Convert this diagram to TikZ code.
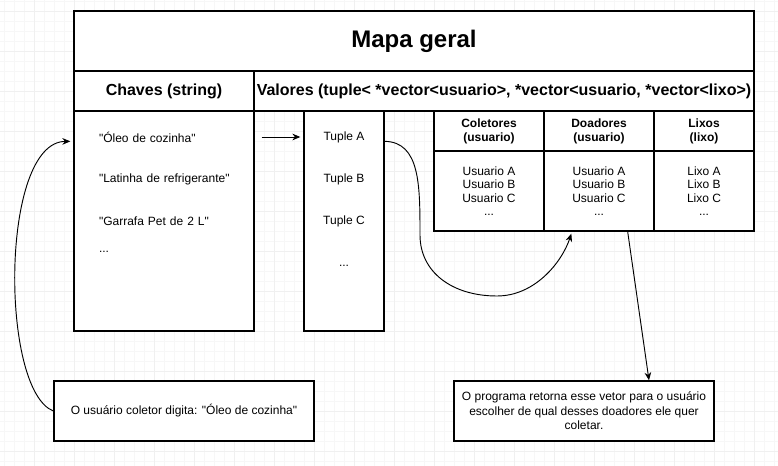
\documentclass[tikz,border=0pt]{standalone}
\usepackage{fontspec}
\setmainfont{Liberation Sans}
\usetikzlibrary{positioning, arrows.meta, calc}

\tikzset{
  cell/.style={draw, line width=1pt, inner sep=0pt},
  entry/.style={font=\fontsize{9}{10.5}\selectfont, inner sep=0pt},
  head/.style={font=\bfseries\fontsize{12}{14}\selectfont},
  colhead/.style={font=\bfseries\fontsize{9}{10.5}\selectfont, align=center},
  colbody/.style={font=\fontsize{9}{10.1}\selectfont, align=center},
  link/.style={line width=0.7pt, -{Stealth[length=6pt, width=5pt]}},
  gridminor/.style={gray!6, line width=0.5pt},
  gridmajor/.style={gray!12, line width=0.6pt},
}

\begin{document}
\begin{tikzpicture}[x=0.75pt, y=-0.75pt, node distance=31.5pt, on grid]
    % Background grid
    \useasboundingbox (0,0) rectangle (778,466);
    \fill[white] (0,0) rectangle (778,466);
    \foreach \gx in {4,14,...,774} \draw[gridminor] (\gx,0) -- (\gx,466);
    \foreach \gy in {1,11,...,461} \draw[gridminor] (0,\gy) -- (778,\gy);
    \foreach \gx in {34,74,...,754} \draw[gridmajor] (\gx,0) -- (\gx,466);
    \foreach \gy in {11,51,...,451} \draw[gridmajor] (0,\gy) -- (778,\gy);

    % Define table
    \node[cell, fill=white, minimum width=510pt, minimum height=45pt,
          font=\bfseries\fontsize{18}{21}\selectfont] (mapa) at (414,41) {Mapa geral};
    \node[cell, head, fill=white, minimum width=135pt, minimum height=30pt] (chaves) at (164,91) {Chaves (string)};
    \node[cell, head, fill=white, minimum width=375pt, minimum height=30pt] (valores) at (504,91)
        {Valores (tuple< *vector<usuario>, *vector<usuario, *vector<lixo>)};
    \node[cell, fill=white, minimum width=135pt, minimum height=165pt] (keys) at (164,221) {};
    \node[cell, fill=white, minimum width=60pt, minimum height=165pt] (tuples) at (344,221) {};

    % Keys
    \node[entry, text width=112.5pt, align=left] (k1) at (174,137) {\textquotedbl Óleo de cozinha\textquotedbl};
    \node[entry, text width=112.5pt, align=left] (k2) [below=of k1] {\textquotedbl Latinha de refrigerante\textquotedbl};
    \node[entry, text width=112.5pt, align=left] (k3) [below=of k2] {\textquotedbl Garrafa Pet de 2 L\textquotedbl};
    \node[entry, text width=112.5pt, align=left] (k4) [below=23.25pt of k3] {...};

    % Tuples
    \node[entry] (tA) at (344,137) {Tuple A};
    \node[entry] (tB) [below=of tA] {Tuple B};
    \node[entry] (tC) [below=of tB] {Tuple C};
    \node[entry] (tD) [below=33.75pt of tC] {...};

    % Tuple contents
    \node[cell, colhead, fill=white, minimum width=82.5pt, minimum height=30pt] (colH) at (489,131) {Coletores\\(usuario)};
    \node[cell, colhead, fill=white, minimum width=82.5pt, minimum height=30pt] (doaH) at (599,131) {Doadores\\(usuario)};
    \node[cell, colhead, fill=white, minimum width=75pt, minimum height=30pt] (lixH) at (704,131) {Lixos\\(lixo)};
    \node[cell, colbody, fill=white, minimum width=82.5pt, minimum height=60pt] (colB) at (489,191)
        {Usuario A\\Usuario B\\Usuario C\\...};
    \node[cell, colbody, fill=white, minimum width=82.5pt, minimum height=60pt] (doaB) at (599,191)
        {Usuario A\\Usuario B\\Usuario C\\...};
    \node[cell, colbody, fill=white, minimum width=75pt, minimum height=60pt] (lixB) at (704,191)
        {Lixo A\\Lixo B\\Lixo C\\...};

    % Notes
    \node[cell, entry, fill=white, minimum width=195pt, minimum height=45pt] (digita) at (184,411)
        {O usuário coletor digita: \textquotedbl Óleo de cozinha\textquotedbl};
    \node[cell, fill=white, font=\fontsize{9}{10.9}\selectfont, align=center,
          minimum width=195pt, minimum height=45pt] (retorna) at (584,411)
        {O programa retorna esse vetor para o usuário\\escolher de qual desses doadores ele quer\\coletar.};

    % Define transitions
    \draw[link, shorten <=5.25pt, shorten >=2.25pt] (keys.east |- tA) -- (tuples.west |- tA);
    \draw[link] ($(tuples.north east)+(0,31)$) .. controls (420,142) and (420,185) .. (420,235)
        .. controls (420,272) and (452,296) .. (497,296)
        .. controls (535,296) and (562,262) .. ($(doaB.south west)+(28,2)$);
    \draw[link] ($(doaB.south east)+(-27,0)$) -- ($(retorna.north)+(65,0)$);
    \draw[link] (digita.west) .. controls (0,390) and (0,142) .. ($(keys.north west)+(-3,31)$);
\end{tikzpicture}
\end{document}
